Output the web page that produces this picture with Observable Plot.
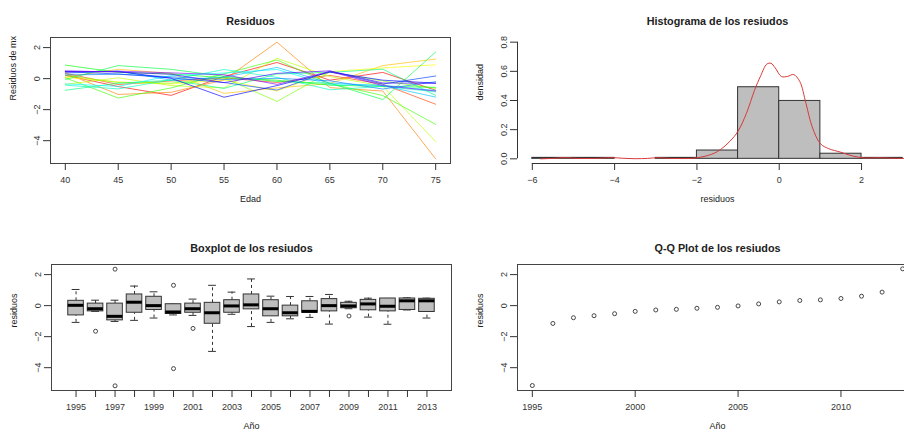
<!DOCTYPE html>
<html><head><meta charset="utf-8">
<script src="https://cdn.jsdelivr.net/npm/d3@7"></script>
<script src="https://cdn.jsdelivr.net/npm/@observablehq/plot@0.6"></script>
<style>
body{margin:0;background:#fff;overflow:hidden}
#wrap{position:relative;width:904px;height:436px;overflow:hidden;background:#fff}
.panel{position:absolute}
</style></head><body><div id="wrap"></div>
<script>
// ---------------- data ----------------
const ages = [40, 45, 50, 55, 60, 65, 70, 75];
const years = [1995,1996,1997,1998,1999,2000,2001,2002,2003,2004,2005,2006,2007,2008,2009,2010,2011,2012,2013];
// residuals by year (rows) and age (columns 40..75)
const residuals = [
  [ 0.22, -0.51, -1.08,  0.14,  1.04, -0.10,  0.40, -0.75], // 1995
  [ 0.35, -0.38, -0.15,  0.05, -0.25,  0.21, -0.36, -1.65], // 1996
  [ 0.35, -1.02, -0.88, -0.09,  2.35, -0.58, -0.80, -5.17], // 1997
  [ 0.10,  0.60,  0.34, -0.95, -0.60, -0.32,  0.84,  1.26], // 1998
  [ 0.08, -0.21, -0.35, -0.08, -0.80,  0.45,  0.69,  0.89], // 1999
  [-0.37,  0.05, -0.45, -0.60,  1.31,  0.13, -0.48, -4.06], // 2000
  [ 0.21, -0.25, -0.29,  0.05, -1.47,  0.42, -0.15, -0.63], // 2001
  [ 0.05, -1.25, -0.60,  0.31,  1.20, -0.32, -1.09, -2.95], // 2002
  [ 0.87,  0.40,  0.30,  0.06, -0.10, -0.42, -0.50, -0.56], // 2003
  [-0.05,  0.84,  0.60,  0.15, -0.18, -0.30, -1.35,  1.72], // 2004
  [-0.75, -0.30, -0.10, -0.63,  0.30,  0.40,  0.61, -1.08], // 2005
  [-0.42, -0.66, -0.08,  0.59,  0.08, -0.72, -0.50, -0.85], // 2006
  [-0.34, -0.50,  0.20,  0.36,  0.59, -0.40, -0.42, -0.76], // 2007
  [ 0.35,  0.49, -0.10,  0.10,  0.72, -0.29, -0.45, -1.19], // 2008
  [ 0.24,  0.28,  0.12, -0.06,  0.02, -0.14, -0.67, -0.20], // 2009
  [ 0.44,  0.30,  0.05, -0.25, -0.74,  0.48, -0.35,  0.17], // 2010
  [ 0.46,  0.46,  0.02, -1.20, -0.45,  0.42, -0.10, -0.29], // 2011
  [ 0.50,  0.42,  0.28, -0.26,  0.34,  0.50, -0.28, -0.30], // 2012
  [ 0.42,  0.48,  0.37,  0.25, -0.37,  0.46, -0.45, -0.80]  // 2013
];
// histogram
const histBreaks = [-6, -5, -4, -3, -2, -1, 0, 1, 2, 3];
const histDensity = [0.0066, 0.0066, 0, 0.0066, 0.057, 0.491, 0.397, 0.035, 0.0066];
const densX = [-5.8,-5.5,-5.2,-4.9,-4.6,-4.3,-4.05,-3.8,-3.5,-3.2,-2.95,-2.7,-2.4,-2.1,-1.8,-1.5,-1.2,-1.0,-0.8,-0.6,-0.45,-0.3,-0.2,-0.1,0.05,0.2,0.35,0.5,0.65,0.8,1.0,1.2,1.5,1.8,2.1,2.4,2.7,3.0,3.4];
const densY = [0.000,0.003,0.008,0.003,0.002,0.005,0.008,0.004,0.001,0.003,0.008,0.004,0.002,0.004,0.018,0.050,0.120,0.190,0.310,0.470,0.570,0.650,0.655,0.625,0.565,0.565,0.578,0.530,0.380,0.220,0.104,0.070,0.045,0.018,0.006,0.008,0.005,0.003,0.001];
// boxplot statistics per year
const boxHi  = [1.04, 0.35, 0.35, 1.26, 0.89, 0.09, 0.42, 1.31, 0.87, 1.72, 0.61, 0.59, 0.59, 0.72, 0.28, 0.48, 0.46, 0.50, 0.48];
const boxQ3  = [0.31, 0.13, 0.13, 0.72, 0.57, 0.09, 0.13, 0.18, 0.35, 0.72, 0.35, 0.00, 0.28, 0.42, 0.18, 0.37, 0.46, 0.46, 0.44];
const boxMed = [0.02,-0.20,-0.69, 0.22, 0.00,-0.41,-0.20,-0.46,-0.02, 0.05,-0.20,-0.46,-0.37, 0.00,-0.02, 0.11,-0.04, 0.31, 0.31];
const boxQ1  = [-0.63,-0.37,-0.95,-0.46,-0.28,-0.54,-0.46,-1.17,-0.46,-0.24,-0.69,-0.69,-0.46,-0.37,-0.17,-0.30,-0.37,-0.28,-0.41];
const boxLo  = [-1.08,-0.37,-1.02,-0.95,-0.80,-0.60,-0.63,-2.95,-0.56,-1.35,-1.08,-0.85,-0.76,-1.19,-0.20,-0.74,-1.20,-0.28,-0.80];
const outYears  = [1996, 1997, 1997, 2000, 2000, 2001, 2009];
const outValues = [-1.65, 2.35, -5.17, 1.31, -4.06, -1.47, -0.67];
// Q-Q panel
const qqValues = [-5.15,-1.15,-0.78,-0.65,-0.52,-0.37,-0.28,-0.24,-0.17,-0.11,-0.02,0.11,0.24,0.33,0.37,0.46,0.61,0.87,2.37];
// tick labels
const ageTicks = [40, 45, 50, 55, 60, 65, 70, 75];
const residTicks = [-4, -2, 0, 2];
const histXTicks = [-6, -4, -2, 0, 2];
const histYTicks = [0, 0.2, 0.4, 0.6, 0.8];
const boxLabelYears = [1995, 1997, 1999, 2001, 2003, 2005, 2007, 2009, 2011, 2013];
const qqXTicks = [1995, 2000, 2005, 2010];

// ---------------- helpers ----------------
const FONT = "'Liberation Sans', Arial, Helvetica, sans-serif";
const INK = "#222", AX = "#333", FRAME = "#444";
const rExpand = ([a, b]) => [a - 0.04 * (b - a), b + 0.04 * (b - a)];
const yRes = rExpand(d3.extent(residuals.flat()));
const style = {fontFamily: FONT, fontSize: "9px", background: "white", color: INK, overflow: "visible"};

function labels(title, xlab, ylab) {
  return [
    Plot.text([title], {text: d => d, frameAnchor: "top", dy: -20.5, fontSize: 10.8, fontWeight: "bold", fill: INK}),
    Plot.text([xlab], {text: d => d, frameAnchor: "bottom", dy: 38.5, fontSize: 9, fill: INK}),
    Plot.text([ylab], {text: d => d, frameAnchor: "left", dx: -37, rotate: -90, fontSize: 9, fill: INK})
  ];
}
const xAxis = (ticks, fmt) => Plot.axisX({ticks, tickSize: 7, tickPadding: 6.5, tickFormat: fmt, color: AX, fontSize: 9, label: null});
const yAxis = (ticks, fmt) => Plot.axisY({ticks, tickSize: 7, tickPadding: 4, tickRotate: -90, tickFormat: fmt, color: AX, fontSize: 9, label: null});

function place(node, left, top, w) {
  const d = document.createElement("div");
  d.className = "panel";
  d.style.left = left + "px"; d.style.top = top + "px"; d.style.width = w + "px";
  d.appendChild(node);
  document.getElementById("wrap").appendChild(d);
}

// ---------------- panel 1: lines ----------------
const lineData = years.flatMap((yr, i) => ages.map((a, j) => ({year: yr, age: a, value: residuals[i][j]})));
// rainbow palette running from red to violet
const rainbow = years.map((_, i) => d3.hsl(15 * i, 1, 0.5).formatHex());
place(Plot.plot({
  width: 452, height: 218, marginLeft: 50, marginRight: 2, marginTop: 37, marginBottom: 55, style,
  x: {domain: rExpand(d3.extent(ages)), axis: null},
  y: {domain: yRes, axis: null},
  color: {type: "ordinal", domain: years, range: rainbow},
  marks: [
    Plot.line(lineData, {x: "age", y: "value", z: "year", stroke: "year", strokeWidth: 1, strokeOpacity: 0.65}),
    Plot.frame({stroke: FRAME}),
    xAxis(ageTicks),
    yAxis(residTicks),
    ...labels("Residuos", "Edad", "Residuos de mx")
  ]
}), 0, 0, 452);

// ---------------- panel 2: histogram ----------------
const bins = histDensity.map((d, i) => ({x0: histBreaks[i], x1: histBreaks[i + 1], density: d}));
const dens = densX.map((x, i) => ({x, y: densY[i]}));
const xHist = rExpand(d3.extent(histBreaks));
const yHist = rExpand(d3.extent(histYTicks));
place(Plot.plot({
  width: 465, height: 218, marginLeft: 65, marginRight: 0, marginTop: 37, marginBottom: 55, style,
  x: {domain: xHist, axis: null},
  y: {domain: yHist, axis: null},
  marks: [
    Plot.rectY(bins, {x1: "x0", x2: "x1", y: "density", fill: "#bebebe", stroke: AX}),
    Plot.line(dens, {x: "x", y: "y", stroke: "#d83a3a", strokeWidth: 1, curve: "catmull-rom"}),
    Plot.ruleY([yHist[0]], {x1: d3.min(histXTicks), x2: d3.max(histXTicks), stroke: AX}),
    Plot.ruleX([xHist[0]], {y1: d3.min(histYTicks), y2: d3.max(histYTicks), stroke: AX}),
    xAxis(histXTicks),
    yAxis(histYTicks, d3.format(".1f")),
    ...labels("Histograma de los resiudos", "residuos", "densidad")
  ]
}), 452, 0, 465);

// ---------------- panel 3: boxplot ----------------
const boxData = years.map((yr, i) => ({year: yr, lo: boxLo[i], q1: boxQ1[i], med: boxMed[i], q3: boxQ3[i], hi: boxHi[i]}));
const outData = outYears.map((yr, i) => ({year: yr, value: outValues[i]}));
const BOX = 0.4, STAPLE = 0.2;
place(Plot.plot({
  width: 452, height: 218, marginLeft: 51, marginRight: 1, marginTop: 46, marginBottom: 46, style,
  x: {domain: rExpand([d3.min(years) - 0.5, d3.max(years) + 0.5]), axis: null},
  y: {domain: yRes, axis: null},
  marks: [
    Plot.ruleX(boxData, {x: "year", y1: "q3", y2: "hi", stroke: AX, strokeDasharray: "3,3"}),
    Plot.ruleX(boxData, {x: "year", y1: "lo", y2: "q1", stroke: AX, strokeDasharray: "3,3"}),
    Plot.ruleY(boxData, {y: "hi", x1: d => d.year - STAPLE, x2: d => d.year + STAPLE, stroke: AX}),
    Plot.ruleY(boxData, {y: "lo", x1: d => d.year - STAPLE, x2: d => d.year + STAPLE, stroke: AX}),
    Plot.rect(boxData, {x1: d => d.year - BOX, x2: d => d.year + BOX, y1: "q1", y2: "q3", fill: "#bebebe", stroke: AX}),
    Plot.ruleY(boxData, {y: "med", x1: d => d.year - BOX, x2: d => d.year + BOX, stroke: "#000", strokeWidth: 3}),
    Plot.dot(outData, {x: "year", y: "value", r: 2, stroke: AX, fill: "none", strokeWidth: 0.9}),
    Plot.frame({stroke: FRAME}),
    xAxis(years, d => boxLabelYears.includes(d) ? String(d) : ""),
    yAxis(residTicks),
    ...labels("Boxplot de los resiudos", "Año", "residuos")
  ]
}), 0, 218, 452);

// ---------------- panel 4: Q-Q ----------------
const qqData = years.map((yr, i) => ({year: yr, value: qqValues[i]}));
place(Plot.plot({
  width: 465, height: 218, marginLeft: 65, marginRight: 0, marginTop: 46, marginBottom: 46, style,
  x: {domain: rExpand(d3.extent(years)), axis: null},
  y: {domain: yRes, axis: null},
  marks: [
    Plot.dot(qqData, {x: "year", y: "value", r: 2, stroke: AX, fill: "none", strokeWidth: 0.9}),
    Plot.frame({stroke: FRAME}),
    xAxis(qqXTicks, d => String(d)),
    yAxis(residTicks),
    ...labels("Q-Q Plot de los resiudos", "Año", "residuos")
  ]
}), 452, 218, 465);
</script></body></html>
